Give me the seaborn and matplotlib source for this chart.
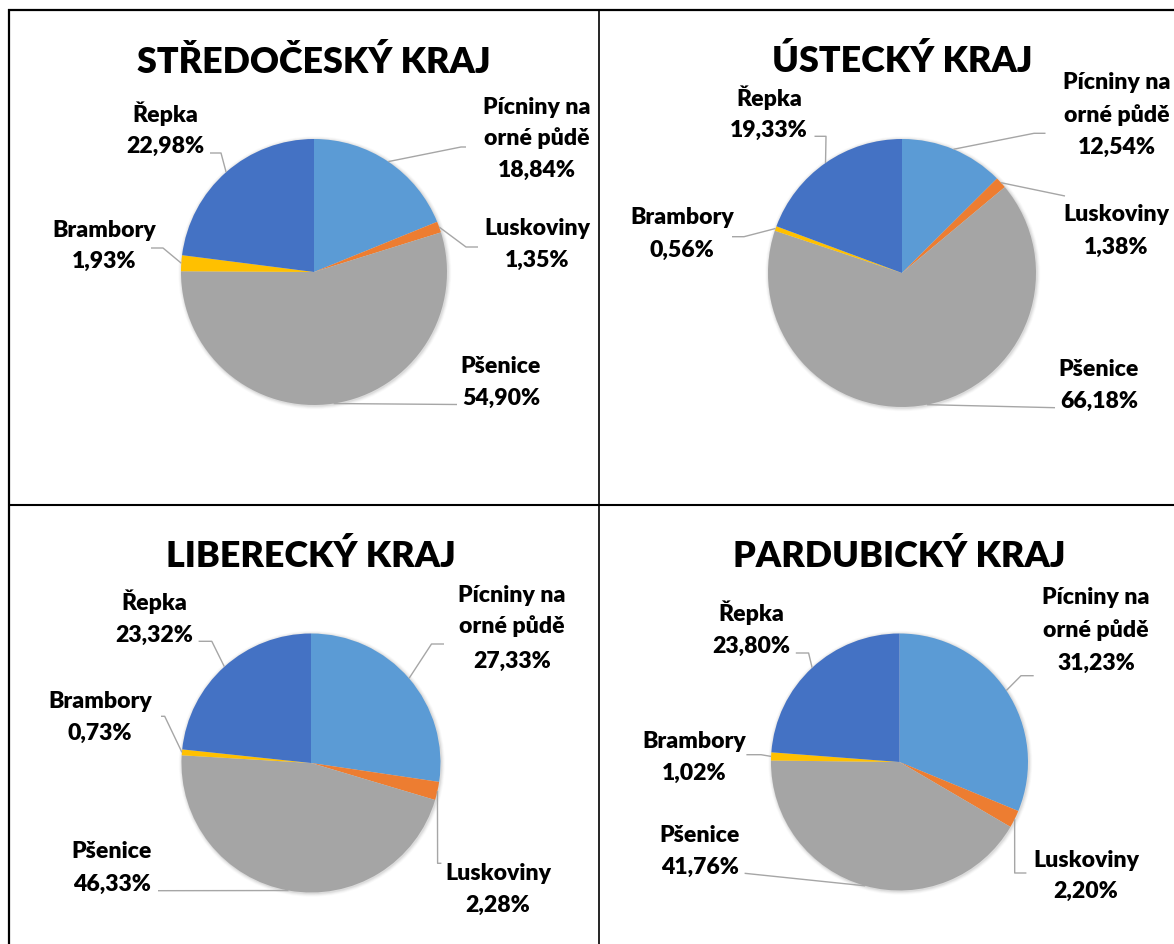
import numpy as np
import matplotlib
matplotlib.use("Agg")
import matplotlib.pyplot as plt
from matplotlib.patches import Circle
import seaborn as sns

# ---------------- data ----------------
categories = ["Pícniny na\norné půdě", "Luskoviny", "Pšenice", "Brambory", "Řepka"]
regions = ["STŘEDOČESKÝ KRAJ", "ÚSTECKÝ KRAJ", "LIBERECKÝ KRAJ", "PARDUBICKÝ KRAJ"]
stredocesky = [18.84, 1.35, 54.90, 1.93, 22.98]
ustecky = [12.54, 1.38, 66.18, 0.56, 19.33]
liberecky = [27.33, 2.28, 46.33, 0.73, 23.32]
pardubicky = [31.23, 2.20, 41.76, 1.02, 23.80]
region_values = [stredocesky, ustecky, liberecky, pardubicky]

# ---------------- style ----------------
sns.set_theme(style="white")
plt.rcParams['font.family'] = ['Lato', 'DejaVu Sans']
palette = sns.color_palette(["#5B9BD5", "#ED7D31", "#A5A5A5", "#FFC000", "#4472C4"])

W, H = 1174, 945
fig = plt.figure(figsize=(W / 100, H / 100), dpi=100)
ax = fig.add_axes([0, 0, 1, 1])


def fy(y):
    return H - y


# layout (pixel positions, image coordinates)
centers = [(314, 273), (902, 274), (311, 764), (899.5, 763)]
radii = [133, 134, 129.5, 128.5]
title_pos = [(314, 73), (902, 72), (311, 567), (899.5, 567)]
label_pos = [
    [(536.5, [114, 145, 177]), (537, [235, 267]), (501, [373, 405]), (104, [237, 268]), (165, [122, 153])],
    [(1117, [89, 122, 154]), (1116, [221, 254]), (1099, [376, 408]), (682, [224, 257]), (769, [106, 137])],
    [(512, [602, 633, 668]), (498, [880, 912]), (112, [858, 891]), (100, [708, 740]), (154, [610, 642])],
    [(1096, [604, 637, 670]), (1086, [867, 898]), (700, [842, 874]), (694, [748, 780]), (751, [621, 653])],
]
leader_pts = [
    [[(466, 148), (461, 148)], [(478, 248), (466, 248)], [(457, 405.5)], [(151, 249), (163, 249)], [(210, 154), (221, 154)]],
    [[(1045.5, 134.3), (1034, 134.3)], [(1065, 197)], [(1055, 408.7)], [(732, 237.7), (744, 237.7)], [(814.5, 137.3), (826, 137.3)]],
    [[(444, 645), (431.5, 645)], [(441.4, 864.3), (437.6, 864.3)], [(158, 891.7)], [(161, 717.3), (164.7, 717.3)], [(198.6, 642.3), (211.8, 642.3)]],
    [[(1033.7, 676.7), (1021, 676.7)], [(1026.4, 874), (1014.7, 874)], [(744.6, 874.3)], [(746.4, 755.7), (761, 755.7)], [(795.8, 654), (808.6, 654)]],
]

label_fs = 16.6
title_fs = 25.8
text_weight = "heavy"
leader_color = "#A6A6A6"

for k, vals in enumerate(region_values):
    cx, cy = centers[k]
    r = radii[k]
    # soft shadow
    for i, a in enumerate([0.05, 0.04, 0.03, 0.02]):
        ax.add_patch(Circle((cx + 0.8, fy(cy) - 0.8), r + 0.8 + i * 0.9, color="#000000",
                            alpha=a, lw=0, zorder=1))
    wedges, _ = ax.pie(vals, colors=palette, startangle=90, counterclock=False,
                       center=(cx, fy(cy)), radius=r,
                       wedgeprops=dict(linewidth=0, zorder=2))
    # title
    tx, ty = title_pos[k]
    ax.text(tx, fy(ty), regions[k], ha="center", va="baseline", fontsize=title_fs,
            fontweight=text_weight, color="black", zorder=5)
    # labels and leader lines
    total = float(np.sum(vals))
    cum = 0.0
    for j, v in enumerate(vals):
        mid = 90 - 360 * (cum + v / 2) / total
        cum += v
        px = cx + r * np.cos(np.radians(mid))
        py = fy(cy) + r * np.sin(np.radians(mid))
        lx, bases = label_pos[k][j]
        lines = categories[j].split("\n") + [f"{v:.2f}".replace(".", ",") + "%"]
        for line, b in zip(lines, bases):
            ax.text(lx, fy(b), line, ha="center", va="baseline", fontsize=label_fs,
                    fontweight=text_weight, color="black", zorder=5)
        xs = [p[0] for p in leader_pts[k][j]] + [px]
        ys = [fy(p[1]) for p in leader_pts[k][j]] + [py]
        ax.plot(xs, ys, color=leader_color, lw=1.0, zorder=3, solid_capstyle="butt")

# panel borders
border_kw = dict(color="black", zorder=6, solid_capstyle="butt")
ax.plot([8, W], [fy(11), fy(11)], lw=1.6, **border_kw)
ax.plot([9, 9], [fy(10), 0], lw=1.6, **border_kw)
ax.plot([598.5, 598.5], [fy(10), 0], lw=1.2, **border_kw)
ax.plot([8, W], [fy(505.5), fy(505.5)], lw=1.5, **border_kw)

ax.set_xlim(0, W)
ax.set_ylim(0, H)
ax.set_aspect("auto")
ax.axis("off")

fig.savefig("out.png", dpi=100, facecolor="white")
